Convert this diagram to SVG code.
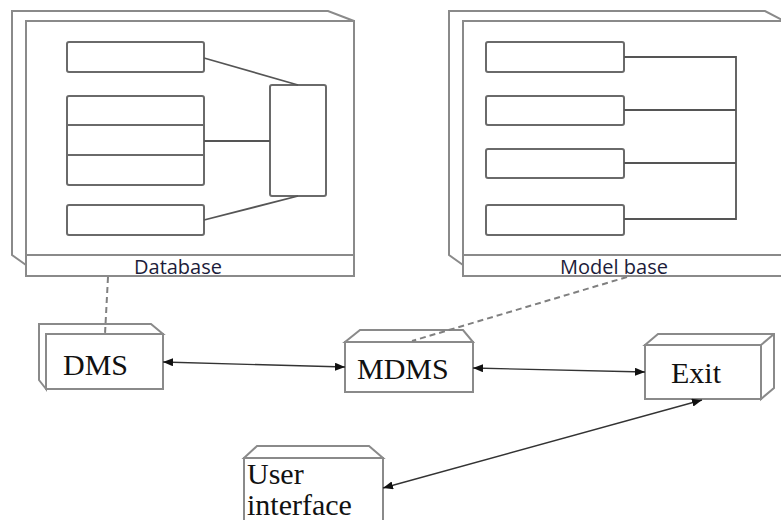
<svg xmlns="http://www.w3.org/2000/svg" width="781" height="520" viewBox="0 0 781 520">
<defs>
<marker id="ah" viewBox="0 0 10 8" refX="10" refY="4" markerWidth="10" markerHeight="8" markerUnits="userSpaceOnUse" orient="auto-start-reverse">
<path d="M0,0 L10,4 L0,8 Z" fill="#111"/>
</marker>
<style>
.frame{fill:#fff;stroke:#8a8a8a;stroke-width:2}
.inner{fill:#fff;stroke:#6a6a6a;stroke-width:2}
.link{fill:none;stroke:#555;stroke-width:1.8}
.dash{fill:none;stroke:#808080;stroke-width:2;stroke-dasharray:6,4}
.arrow{fill:none;stroke:#333;stroke-width:1.3}
.lbl{font-family:"Open Sans","DejaVu Sans",sans-serif;font-size:20px;fill:#1c1c3a;text-anchor:middle}
.nt{font-family:"Liberation Serif","Times New Roman",serif;font-size:30px;fill:#111}
</style>
</defs>
<rect width="781" height="520" fill="#fff"/>

<g id="database">
<path class="frame" d="M26,265 L12,255 L12,11 L328,11 L354,21 L26,21 Z"/>
<rect class="frame" x="26" y="21" width="328" height="255"/>
<line class="frame" x1="26" y1="255" x2="354" y2="255"/>
<rect class="inner" x="67" y="42" width="137" height="30" rx="2"/>
<rect class="inner" x="67" y="96" width="137" height="89" rx="2"/>
<line class="inner" x1="67" y1="125" x2="204" y2="125"/>
<line class="inner" x1="67" y1="155" x2="204" y2="155"/>
<rect class="inner" x="67" y="205" width="137" height="30" rx="2"/>
<rect class="inner" x="270" y="85" width="56" height="111" rx="2"/>
<line class="link" x1="204" y1="58" x2="298" y2="85"/>
<line class="link" x1="204" y1="141" x2="270" y2="141"/>
<line class="link" x1="204" y1="220" x2="298" y2="196"/>
<text class="lbl" x="178" y="274">Database</text>
</g>

<g id="modelbase">
<path class="frame" d="M463,265 L449,255 L449,11 L765,11 L790,24 L463,21 Z"/>
<rect class="frame" x="463" y="21" width="330" height="255"/>
<line class="frame" x1="463" y1="255" x2="790" y2="255"/>
<rect class="inner" x="486" y="42" width="138" height="30" rx="2"/>
<rect class="inner" x="486" y="96" width="138" height="29" rx="2"/>
<rect class="inner" x="486" y="149" width="138" height="29" rx="2"/>
<rect class="inner" x="486" y="205" width="138" height="30" rx="2"/>
<path class="link" d="M624,57 H736 V219 H624 M624,110 H736 M624,163 H736"/>
<text class="lbl" x="614" y="274">Model base</text>
</g>

<g id="dms">
<path class="frame" d="M46,389 L39,380 L39,324 L151,324 L163,334 L46,334 Z"/>
<rect class="frame" x="46" y="334" width="117" height="55"/>
<text class="nt" x="63" y="375">DMS</text>
</g>

<g id="mdms">
<path class="frame" d="M345,342 L360,330 L463,330 L473,342 Z"/>
<rect class="frame" x="345" y="342" width="128" height="50"/>
<text class="nt" x="357" y="379">MDMS</text>
</g>

<g id="exit">
<path class="frame" d="M645,345 L658,334 L774,334 L774,388 L761,399 L761,345 Z"/>
<line class="frame" x1="761" y1="345" x2="774" y2="334"/>
<rect class="frame" x="645" y="345" width="116" height="54"/>
<text class="nt" x="671" y="383">Exit</text>
</g>

<g id="userinterface">
<path class="frame" d="M244,458 L257,446 L369,446 L383,458 Z"/>
<rect class="frame" x="244" y="458" width="139" height="70"/>
<text class="nt" x="247" y="484">User</text>
<text class="nt" x="247" y="515">interface</text>
</g>

<g id="connectors">
<path class="dash" d="M108,277 L105,334"/>
<path class="dash" d="M627,277 L412,341"/>
<line class="arrow" x1="163" y1="362" x2="345" y2="367" marker-start="url(#ah)" marker-end="url(#ah)"/>
<line class="arrow" x1="473" y1="368" x2="645" y2="372" marker-start="url(#ah)" marker-end="url(#ah)"/>
<line class="arrow" x1="383" y1="488" x2="702" y2="400" marker-start="url(#ah)" marker-end="url(#ah)"/>
</g>
</svg>
